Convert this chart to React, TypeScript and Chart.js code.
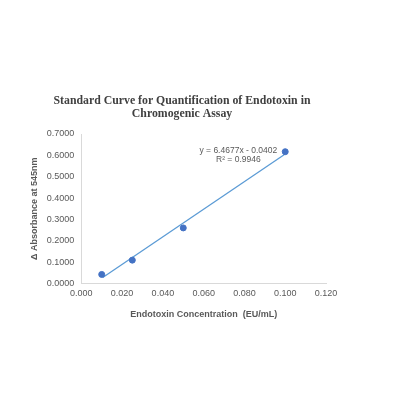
import React, { useEffect, useRef } from 'react';
import { Chart, registerables } from 'chart.js';

Chart.register(...registerables);

const CONCENTRATION = [0.01, 0.025, 0.05, 0.1];
const ABSORBANCE = [0.042, 0.109, 0.26, 0.617];
const TREND_X = [0.0105, 0.1];
const TREND_Y = [0.028, 0.606];
const EQUATION_LINES = ['y = 6.4677x - 0.0402', 'R² = 0.9946'];
const TITLE_LINES = ['Standard Curve for Quantification of Endotoxin in', 'Chromogenic Assay'];

const textGrey = '#595959';
const axisGrey = '#d9d9d9';
const sans = '"Liberation Sans", Arial, sans-serif';

// the title sits centred over the whole chart box, not the plot area
const chartTitle = {
  id: 'chartTitle',
  afterDraw(chart: Chart) {
    const { ctx } = chart;
    ctx.save();
    ctx.fillStyle = '#404040';
    ctx.font = 'bold 11.8px "Liberation Serif", "Times New Roman", serif';
    ctx.textAlign = 'center';
    ctx.textBaseline = 'middle';
    TITLE_LINES.forEach((line, i) => ctx.fillText(line, 182, 101 + i * 13));
    ctx.restore();
  },
};

const equationLabel = {
  id: 'equationLabel',
  afterDatasetsDraw(chart: Chart) {
    const { ctx, chartArea } = chart;
    ctx.save();
    ctx.fillStyle = textGrey;
    ctx.font = `8.5px ${sans}`;
    ctx.textAlign = 'center';
    ctx.textBaseline = 'middle';
    const cx = chartArea.left + 157;
    EQUATION_LINES.forEach((line, i) => {
      ctx.fillText(line, cx, chartArea.top + 16.5 + i * 9.5);
    });
    ctx.restore();
  },
};

const App: React.FC = () => {
  const canvasRef = useRef<HTMLCanvasElement>(null);
  const chartRef = useRef<Chart | null>(null);

  useEffect(() => {
    if (!canvasRef.current) return;
    chartRef.current?.destroy();

    chartRef.current = new Chart(canvasRef.current, {
      type: 'scatter',
      data: {
        datasets: [
          {
            label: 'Trend',
            type: 'line',
            data: TREND_X.map((x, i) => ({ x, y: TREND_Y[i] })),
            borderColor: '#5b9bd5',
            borderWidth: 1.3,
            pointRadius: 0,
            fill: false,
            order: 2,
          },
          {
            label: 'Standards',
            data: CONCENTRATION.map((x, i) => ({ x, y: ABSORBANCE[i] })),
            backgroundColor: '#4472c4',
            borderColor: '#4472c4',
            pointRadius: 3,
            order: 1,
          },
        ],
      },
      options: {
        responsive: true,
        maintainAspectRatio: false,
        animation: false,
        layout: { padding: { top: 134, left: 25, right: 90, bottom: 92 } },
        plugins: {
          legend: { display: false },
          tooltip: { enabled: false },
          title: { display: false },
        },
        scales: {
          x: {
            type: 'linear',
            min: 0,
            max: 0.12,
            ticks: {
              stepSize: 0.02,
              color: textGrey,
              font: { family: sans, size: 9 },
              padding: 5,
              callback: (v) => Number(v).toFixed(3),
            },
            grid: { display: false, drawTicks: false },
            border: { color: axisGrey },
            title: {
              display: true,
              text: 'Endotoxin Concentration  (EU/mL)',
              color: textGrey,
              font: { family: sans, size: 9, weight: 'bold' },
              padding: { top: 5 },
            },
          },
          y: {
            type: 'linear',
            min: 0,
            max: 0.7,
            ticks: {
              stepSize: 0.1,
              color: textGrey,
              font: { family: sans, size: 9 },
              padding: 7,
              callback: (v) => Number(v).toFixed(4),
            },
            grid: { display: false, drawTicks: false },
            border: { color: axisGrey },
            title: {
              display: true,
              text: 'Δ Absorbance at 545nm',
              color: textGrey,
              font: { family: sans, size: 9, weight: 'bold' },
              padding: { bottom: 0 },
            },
          },
        },
      },
      plugins: [chartTitle, equationLabel],
    });

    return () => {
      chartRef.current?.destroy();
      chartRef.current = null;
    };
  }, []);

  return (
    <div style={{ position: 'fixed', left: 0, top: 0, width: 416, height: 416, background: '#fff' }}>
      <canvas ref={canvasRef} />
    </div>
  );
};

export default App;
